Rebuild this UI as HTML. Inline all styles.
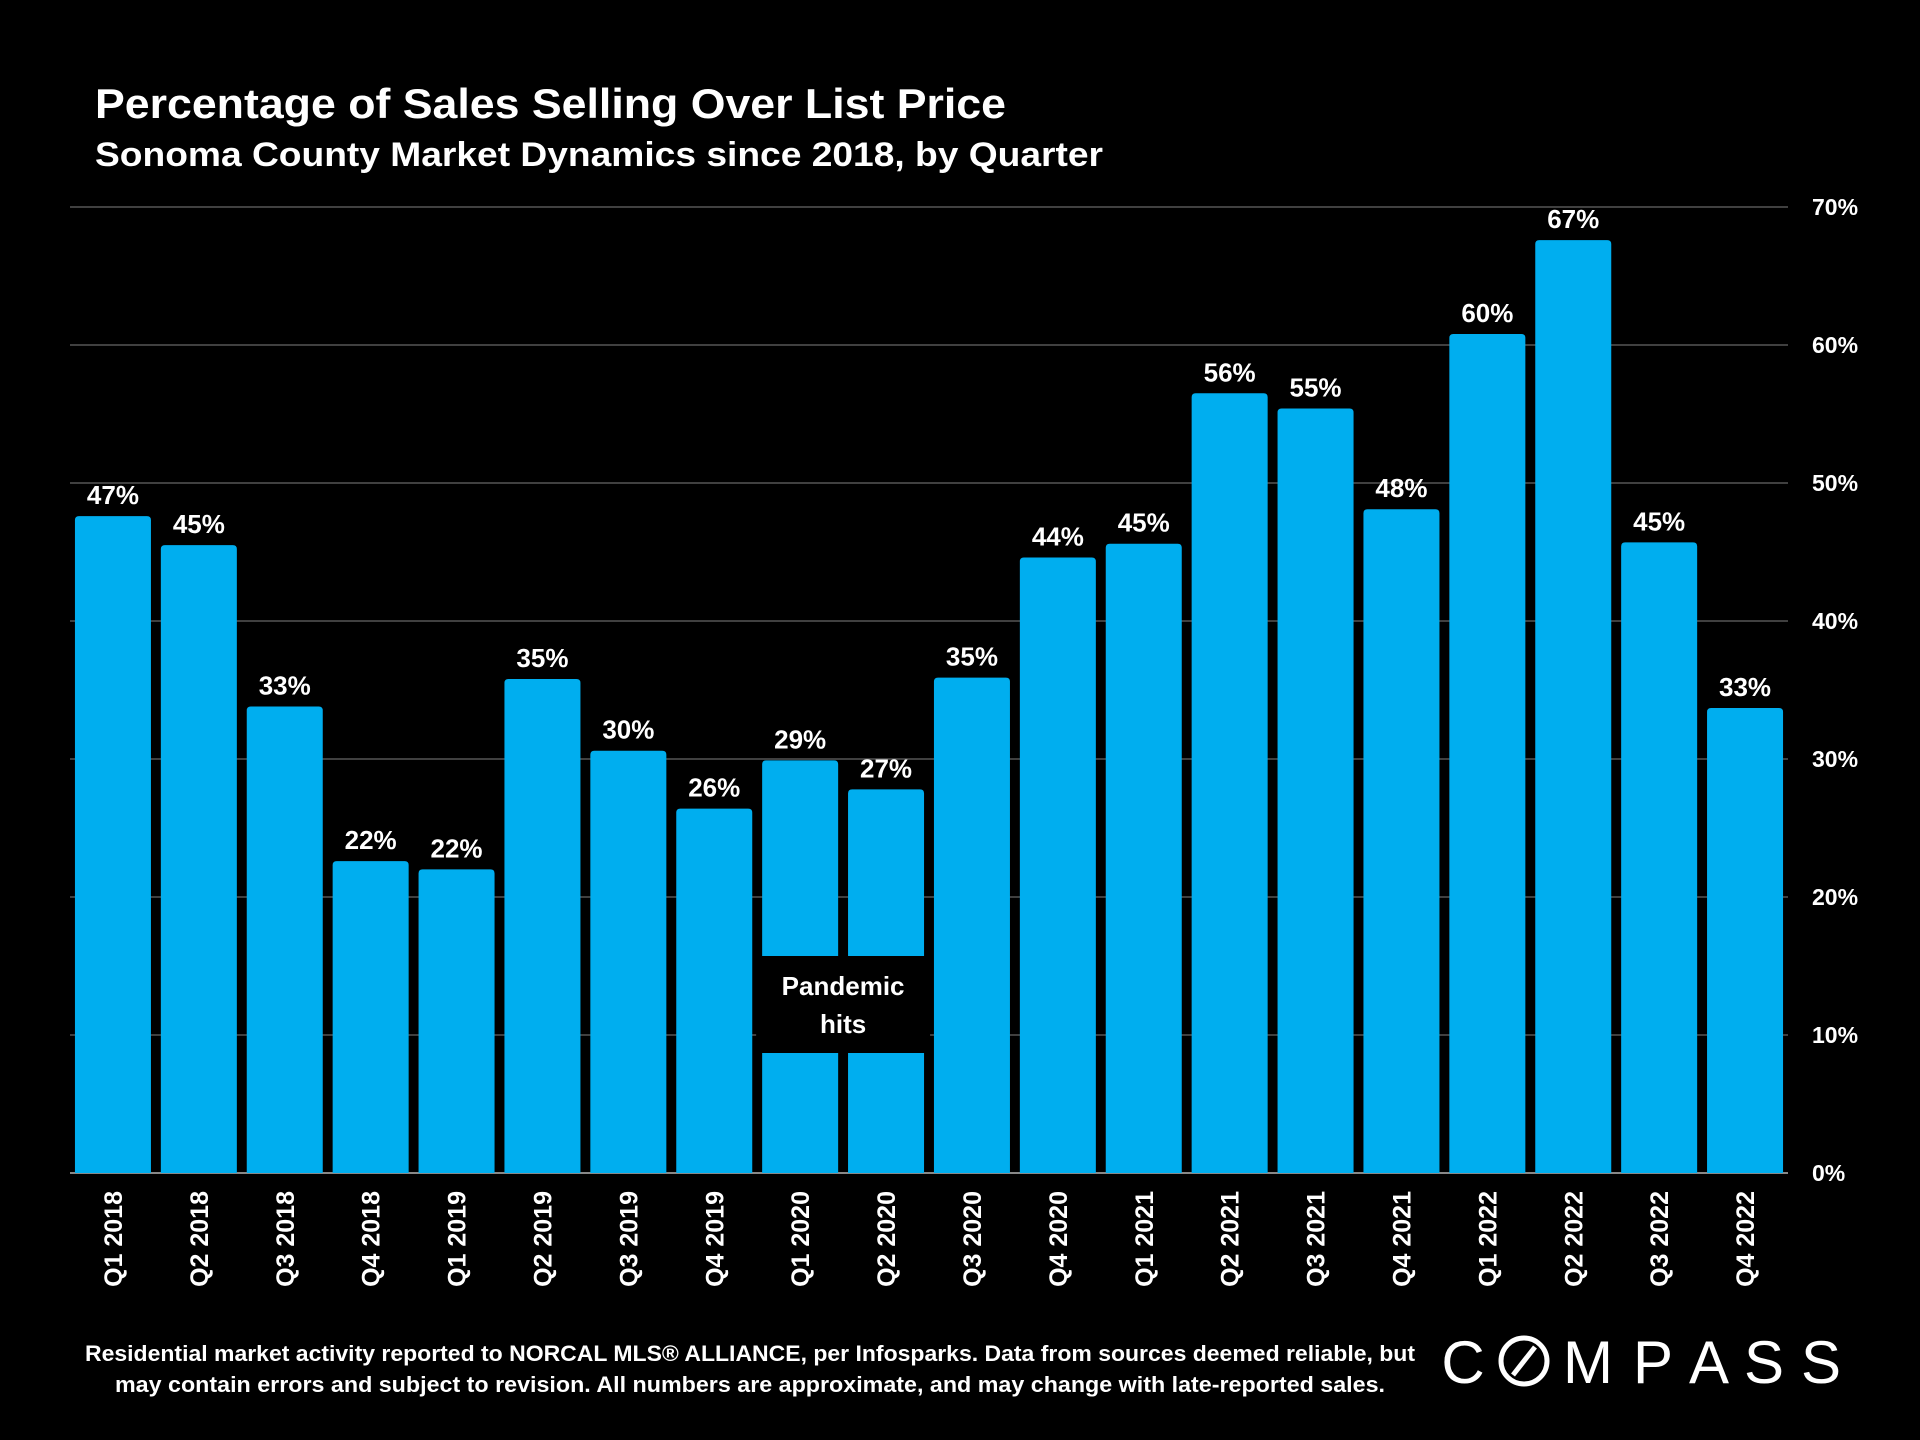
<!DOCTYPE html>
<html><head><meta charset="utf-8"><style>
html,body{margin:0;padding:0;background:#000;}
svg{display:block;font-family:"Liberation Sans",sans-serif;font-weight:bold;}
</style></head><body>
<svg id="chart" width="1920" height="1440" viewBox="0 0 1920 1440">
<rect x="0" y="0" width="1920" height="1440" fill="#000"/>
<text x="95" y="118" fill="#fff" font-size="42" textLength="911" lengthAdjust="spacingAndGlyphs">Percentage of Sales Selling Over List Price</text>
<text x="95" y="166" fill="#fff" font-size="34" textLength="1008" lengthAdjust="spacingAndGlyphs">Sonoma County Market Dynamics since 2018, by Quarter</text>
<g id="grid"></g>
<g id="bars"></g>
<g id="labels"></g>
<g id="annot"></g>
<text x="750" y="1361" fill="#fff" font-size="22" text-anchor="middle" textLength="1330" lengthAdjust="spacingAndGlyphs">Residential market activity reported to NORCAL MLS® ALLIANCE, per Infosparks. Data from sources deemed reliable, but</text>
<text x="750" y="1392" fill="#fff" font-size="22" text-anchor="middle" textLength="1270" lengthAdjust="spacingAndGlyphs">may contain errors and subject to revision. All numbers are approximate, and may change with late-reported sales.</text>
<g fill="#fff" font-size="60" font-weight="normal" text-anchor="middle">
<text x="1463" y="1383">C</text>
<text x="1588" y="1383">M</text>
<text x="1653" y="1383">P</text>
<text x="1709" y="1383">A</text>
<text x="1764" y="1383">S</text>
<text x="1821" y="1383">S</text>
<circle cx="1524" cy="1361" r="23" fill="none" stroke="#fff" stroke-width="5"/>
<line x1="1513" y1="1375" x2="1535" y2="1347" stroke="#fff" stroke-width="5"/>
</g>
</svg>
<script>
const categories=["Q1 2018","Q2 2018","Q3 2018","Q4 2018","Q1 2019","Q2 2019","Q3 2019","Q4 2019","Q1 2020","Q2 2020","Q3 2020","Q4 2020","Q1 2021","Q2 2021","Q3 2021","Q4 2021","Q1 2022","Q2 2022","Q3 2022","Q4 2022"];
const values=[47.6,45.5,33.8,22.6,22.0,35.8,30.6,26.4,29.9,27.8,35.9,44.6,45.6,56.5,55.4,48.1,60.8,67.6,45.7,33.7];
const valueLabels=["47%","45%","33%","22%","22%","35%","30%","26%","29%","27%","35%","44%","45%","56%","55%","48%","60%","67%","45%","33%"];
const yTicks=[0,10,20,30,40,50,60,70];
const yTickLabels=["0%","10%","20%","30%","40%","50%","60%","70%"];

const NS="http://www.w3.org/2000/svg";
const x0=70,x1=1788,yBase=1173,yTop=207,yMax=70;
const slot=(x1-x0)/categories.length, bw=76;
const yS=v=>yBase-(v/yMax)*(yBase-yTop);
const xC=i=>x0+slot*(i+0.5);
function mk(tag,attrs,parent){const e=document.createElementNS(NS,tag);for(const k in attrs)e.setAttribute(k,attrs[k]);parent.appendChild(e);return e;}
const grid=document.getElementById('grid'),bars=document.getElementById('bars'),labels=document.getElementById('labels');
yTicks.forEach((t,i)=>{
  const l=mk('line',{x1:x0,x2:x1,y1:yS(t),y2:yS(t),stroke:t===0?'#888':'#555','stroke-width':t===0?2:1.5},grid);
  
  
  const tx=mk('text',{x:1812,y:yS(t)+8,fill:'#fff','font-size':23},grid);
  tx.textContent=yTickLabels[i];
  
  
});
categories.forEach((c,i)=>{
  const cx=xC(i),top=yS(values[i]);
  const r=mk('path',{d:`M${cx-bw/2},${yBase} V${top+4} Q${cx-bw/2},${top} ${cx-bw/2+4},${top} H${cx+bw/2-4} Q${cx+bw/2},${top} ${cx+bw/2},${top+4} V${yBase} Z`,fill:'#00AEEF'},bars);
  
  
  const v=mk('text',{x:cx,y:top-12,fill:'#fff','font-size':26,'text-anchor':'middle'},labels);
  v.textContent=valueLabels[i];
  
  
  const xl=mk('text',{x:0,y:0,fill:'#fff','font-size':25,'text-anchor':'end',transform:`translate(${cx+9},1191) rotate(-90)`},labels);
  xl.textContent=c;
  
  
});
const an=document.getElementById('annot');
const ax=xC(8)-bw/2-6, aw=xC(9)+bw/2+6-ax;
const ar=mk('rect',{x:ax,y:956,width:aw,height:97,fill:'#000'},an);


const t1=mk('text',{x:ax+aw/2,y:995,fill:'#fff','font-size':26,'text-anchor':'middle'},an);t1.textContent='Pandemic';


const t2=mk('text',{x:ax+aw/2,y:1033,fill:'#fff','font-size':26,'text-anchor':'middle'},an);t2.textContent='hits';


</script>
</body></html>
